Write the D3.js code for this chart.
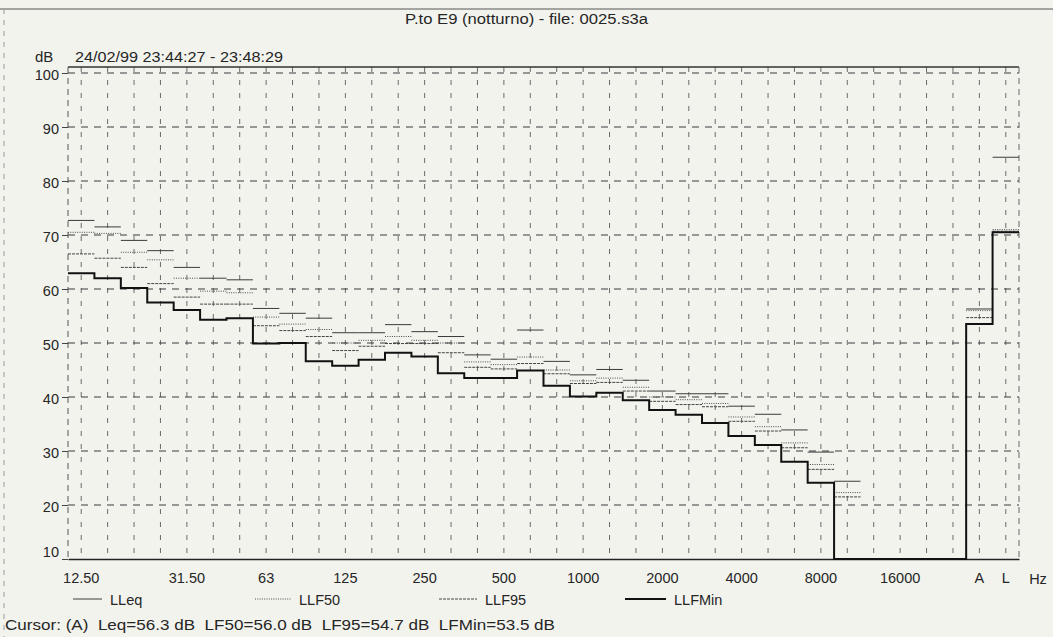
<!DOCTYPE html>
<html>
<head>
<meta charset="utf-8">
<title>P.to E9 (notturno) - file: 0025.s3a</title>
<script src="https://cdn.jsdelivr.net/npm/d3@7/dist/d3.min.js"></script>
<style>
    html, body { margin: 0; padding: 0; background: #f3f3ee; }
    svg { display: block; font-family: "Liberation Sans", Arial, sans-serif; }
    text { white-space: pre; }
</style>
</head>
<body>
<svg id="chart" width="1053" height="637"></svg>
<script>
// 1/3 octave bands (one empty slot before A and L)
var bands = ["12.5", "16", "20", "25", "31.5", "40", "50", "63", "80", "100",
    "125", "160", "200", "250", "315", "400", "500", "630", "800", "1000",
    "1250", "1600", "2000", "2500", "3150", "4000", "5000", "6300", "8000", "10000",
    "12500", "16000", "20000", "", "A", "L"];

var tickText = ["12.50", "", "", "", "31.50", "", "", "63", "", "",
    "125", "", "", "250", "", "", "500", "", "", "1000",
    "", "", "2000", "", "", "4000", "", "", "8000", "",
    "", "16000", "", "", "A", "L"];

var yTicks = [10, 20, 30, 40, 50, 60, 70, 80, 90, 100];

// dB values, null = below 10 dB / no data
var LLeq = [72.7, 71.5, 69.0, 67.1, 64.0, 62.0, 61.7, 56.4, 55.5, 54.6,
    51.9, 51.9, 53.4, 52.1, 51.2, 47.8, 47.0, 52.4, 46.6, 44.1,
    45.1, 43.1, 41.1, 40.6, 40.6, 38.3, 36.8, 33.9, 29.8, 24.4,
    null, null, null, null, 56.3, 84.4];

var LLF50 = [70.5, 70.3, 66.8, 65.4, 62.0, 59.6, 59.3, 54.8, 53.5, 52.5,
    50.0, 50.5, 51.2, 50.5, 50.0, 46.5, 46.0, 47.4, 45.0, 43.0,
    43.5, 41.8, 40.0, 39.5, 38.8, 36.3, 34.5, 31.5, 27.5, 22.3,
    null, null, null, null, 56.0, 71.0];

var LLF95 = [66.5, 65.7, 64.0, 61.0, 58.5, 57.2, 57.2, 53.2, 52.3, 51.2,
    48.6, 49.4, 49.9, 49.9, 48.2, 45.5, 45.2, 46.2, 44.3, 42.5,
    42.7, 41.1, 39.2, 38.6, 38.2, 35.5, 33.7, 30.6, 26.6, 21.5,
    null, null, null, null, 54.7, 70.7];

var LLFMin = [62.9, 62.0, 60.2, 57.5, 56.1, 54.3, 54.6, 49.9, 50.0, 46.6,
    45.8, 46.9, 48.2, 47.5, 44.4, 43.5, 43.5, 44.9, 42.1, 40.1,
    40.8, 39.4, 37.6, 36.7, 35.2, 32.8, 31.1, 28.0, 24.1, null,
    null, null, null, null, 53.5, 70.5];

;(function (win) {

    "use strict";

    var _config = {
        plot: {left: 68, right: 1019, top: 67, y100: 73, y10: 559},
        title: "P.to E9 (notturno) - file: 0025.s3a",
        date: "24/02/99 23:44:27 - 23:48:29",
        cursor: "Cursor: (A)  Leq=56.3 dB  LF50=56.0 dB  LF95=54.7 dB  LFMin=53.5 dB",
        ink: "#262626"
    };

    var _series = [
        {name: "LLeq", data: LLeq, color: "#3a3a3a", width: 1, dash: null, legendX: 73, legendLen: 29},
        {name: "LLF50", data: LLF50, color: "#4a4a4a", width: 1, dash: "1,1.3", legendX: 255, legendLen: 36},
        {name: "LLF95", data: LLF95, color: "#444", width: 1, dash: "3,1", legendX: 439, legendLen: 38},
        {name: "LLFMin", data: LLFMin, color: "#111", width: 2, dash: null, legendX: 625, legendLen: 41}
    ];

    var _tool = {

        // text with a fixed measured width
        fitText: function (sel, x, y, size, len, str, anchor) {
            return sel.append("text")
                .attr("x", x).attr("y", y)
                .attr("font-size", size)
                .attr("fill", _config.ink)
                .attr("text-anchor", anchor || "start")
                .attr("textLength", len)
                .attr("lengthAdjust", "spacingAndGlyphs")
                .text(str);
        },

        draw: function () {
            var p = _config.plot;
            var svg = d3.select("#chart");

            var x = d3.scaleBand().domain(bands).range([p.left, p.right]).padding(0);
            var y = d3.scaleLinear().domain([10, 100]).range([p.y10, p.y100]);
            var bw = x.bandwidth();

            // page frame (scan edges)
            svg.append("line").attr("x1", 0).attr("x2", 1053).attr("y1", 9).attr("y2", 9)
                .attr("stroke", "#555").attr("stroke-width", 1);
            svg.append("line").attr("x1", 4).attr("x2", 4).attr("y1", 9).attr("y2", 637)
                .attr("stroke", "#999").attr("stroke-dasharray", "5,6");

            // title
            _tool.fitText(svg, 405, 24, 15.5, 243, _config.title);
            svg.append("text").attr("x", 35).attr("y", 62)
                .attr("font-size", 15).attr("fill", _config.ink).text("dB");
            _tool.fitText(svg, 75, 62, 15.5, 208, _config.date);

            var g = svg.append("g").attr("class", "plot");

            // vertical grid at band centres
            g.append("g").selectAll("line")
                .data(bands)
                .enter()
                .append("line")
                .attr("x1", function (d) { return x(d) + bw / 2; })
                .attr("x2", function (d) { return x(d) + bw / 2; })
                .attr("y1", p.top)
                .attr("y2", p.y10)
                .attr("stroke", "#6a6a6a")
                .attr("stroke-dasharray", "5,8");

            // horizontal grid
            g.append("g").selectAll("line")
                .data(yTicks.filter(function (d) { return d > 10; }))
                .enter()
                .append("line")
                .attr("x1", p.left)
                .attr("x2", p.right)
                .attr("y1", function (d) { return y(d); })
                .attr("y2", function (d) { return y(d); })
                .attr("stroke", "#3a3a3a")
                .attr("stroke-width", 1.2)
                .attr("stroke-dasharray", "7,6");

            // frame
            g.append("line").attr("x1", p.left).attr("x2", p.right).attr("y1", p.top).attr("y2", p.top)
                .attr("stroke", "#333").attr("stroke-width", 1.5);
            g.append("line").attr("x1", p.left).attr("x2", p.left).attr("y1", p.top).attr("y2", p.y10)
                .attr("stroke", "#555").attr("stroke-dasharray", "6,5");
            g.append("line").attr("x1", p.right).attr("x2", p.right).attr("y1", p.top).attr("y2", p.y10)
                .attr("stroke", "#666").attr("stroke-dasharray", "6,5");

            // y axis
            var yAxis = d3.axisLeft(y).tickValues(yTicks).tickSize(6).tickPadding(3);
            var ya = g.append("g").attr("transform", "translate(" + p.left + ",0)").call(yAxis);
            ya.select(".domain").remove();
            ya.selectAll(".tick line").attr("stroke", "#444");
            ya.selectAll(".tick text")
                .attr("font-size", 14.5)
                .attr("font-family", "Liberation Sans, Arial, sans-serif")
                .attr("fill", _config.ink)
                .attr("dy", function (d) { return d === 10 ? "-0.2em" : "0.42em"; });

            // x axis
            var xAxis = d3.axisBottom(x).tickSize(0).tickPadding(14)
                .tickFormat(function (d, i) { return tickText[i]; });
            var xa = g.append("g").attr("transform", "translate(0," + p.y10 + ")").call(xAxis);
            xa.select(".domain").attr("stroke", "#222").attr("stroke-width", 1.3);
            xa.selectAll(".tick text")
                .attr("font-size", 14.5)
                .attr("font-family", "Liberation Sans, Arial, sans-serif")
                .attr("fill", _config.ink);
            g.append("text").attr("x", 1038).attr("y", p.y10 + 25).attr("text-anchor", "middle")
                .attr("font-size", 14.5).attr("fill", _config.ink).text("Hz");

            // thin series: horizontal band levels
            _series.slice(0, 3).forEach(function (s) {
                g.append("g").attr("class", "series-" + s.name).selectAll("line")
                    .data(bands.map(function (b, i) { return {band: b, v: s.data[i]}; })
                        .filter(function (d) { return d.v !== null; }))
                    .enter()
                    .append("line")
                    .attr("x1", function (d) { return x(d.band); })
                    .attr("x2", function (d) { return x(d.band) + bw; })
                    .attr("y1", function (d) { return y(d.v); })
                    .attr("y2", function (d) { return y(d.v); })
                    .attr("stroke", s.color)
                    .attr("stroke-width", s.width)
                    .attr("stroke-dasharray", s.dash);
            });

            // LLFMin as a full step line, clamped to the bottom
            var minSeries = _series[3];
            var pts = [];
            bands.forEach(function (b, i) {
                var v = minSeries.data[i] === null ? 10 : minSeries.data[i];
                pts.push([x(b), y(v)]);
                pts.push([x(b) + bw, y(v)]);
            });
            g.append("path")
                .attr("d", d3.line()(pts))
                .attr("fill", "none")
                .attr("stroke", minSeries.color)
                .attr("stroke-width", minSeries.width);

            // legend
            var lg = svg.append("g").attr("class", "legend");
            _series.forEach(function (s) {
                lg.append("line")
                    .attr("x1", s.legendX).attr("x2", s.legendX + s.legendLen)
                    .attr("y1", 599).attr("y2", 599)
                    .attr("stroke", s.color)
                    .attr("stroke-width", s.width)
                    .attr("stroke-dasharray", s.dash);
                lg.append("text")
                    .attr("x", s.legendX + s.legendLen + 8).attr("y", 605)
                    .attr("font-size", 14.5).attr("fill", _config.ink)
                    .text(s.name);
            });

            _tool.fitText(svg, 5, 630, 15.5, 550, _config.cursor);
        }
    };

    _tool.draw();

})(window);
</script>
</body>
</html>
